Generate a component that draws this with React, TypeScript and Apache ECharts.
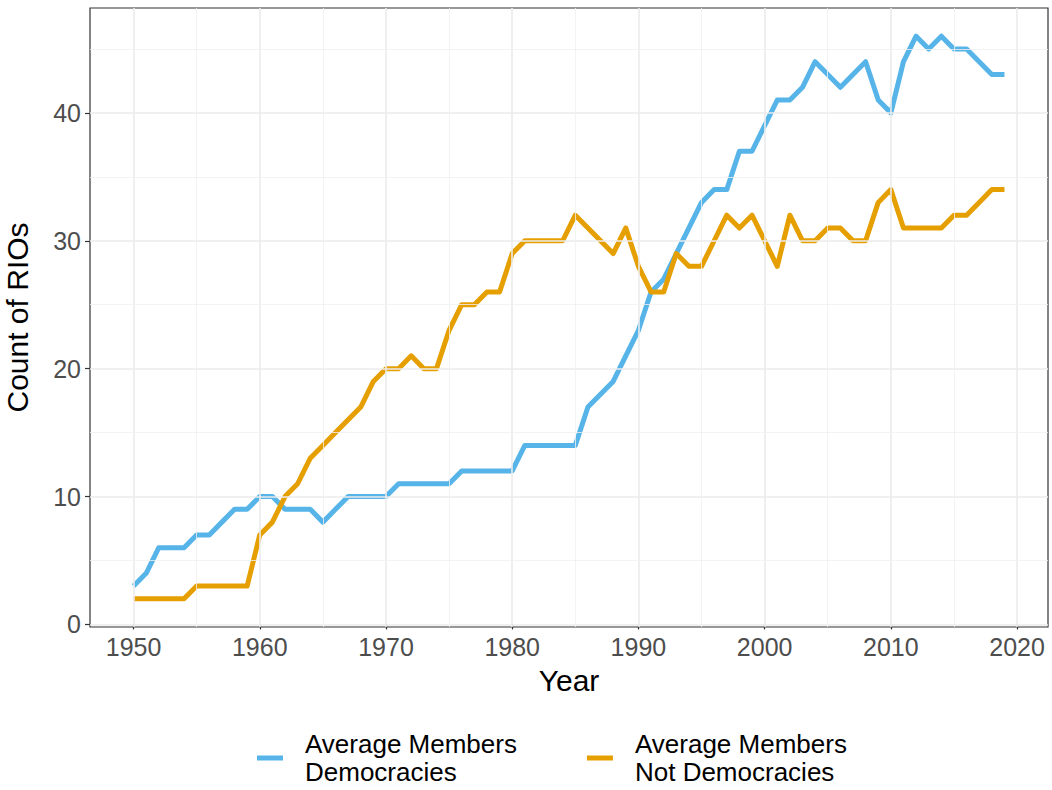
import React, { useEffect, useRef } from "react";
import * as echarts from "echarts";

const years = [
  1950, 1951, 1952, 1953, 1954, 1955, 1956, 1957, 1958, 1959,
  1960, 1961, 1962, 1963, 1964, 1965, 1966, 1967, 1968, 1969,
  1970, 1971, 1972, 1973, 1974, 1975, 1976, 1977, 1978, 1979,
  1980, 1981, 1982, 1983, 1984, 1985, 1986, 1987, 1988, 1989,
  1990, 1991, 1992, 1993, 1994, 1995, 1996, 1997, 1998, 1999,
  2000, 2001, 2002, 2003, 2004, 2005, 2006, 2007, 2008, 2009,
  2010, 2011, 2012, 2013, 2014, 2015, 2016, 2017, 2018, 2019,
];

const democracies = [
  3, 4, 6, 6, 6, 7, 7, 8, 9, 9,
  10, 10, 9, 9, 9, 8, 9, 10, 10, 10,
  10, 11, 11, 11, 11, 11, 12, 12, 12, 12,
  12, 14, 14, 14, 14, 14, 17, 18, 19, 21,
  23, 26, 27, 29, 31, 33, 34, 34, 37, 37,
  39, 41, 41, 42, 44, 43, 42, 43, 44, 41,
  40, 44, 46, 45, 46, 45, 45, 44, 43, 43,
];

const notDemocracies = [
  2, 2, 2, 2, 2, 3, 3, 3, 3, 3,
  7, 8, 10, 11, 13, 14, 15, 16, 17, 19,
  20, 20, 21, 20, 20, 23, 25, 25, 26, 26,
  29, 30, 30, 30, 30, 32, 31, 30, 29, 31,
  28, 26, 26, 29, 28, 28, 30, 32, 31, 32,
  30, 28, 32, 30, 30, 31, 31, 30, 30, 33,
  34, 31, 31, 31, 31, 32, 32, 33, 34, 34,
];

const xTicks = [1950, 1960, 1970, 1980, 1990, 2000, 2010, 2020];
const xMinor = [1955, 1965, 1975, 1985, 1995, 2005, 2015];
const yTicks = [0, 10, 20, 30, 40];
const yMinor = [5, 15, 25, 35, 45];

const seriesNames = ["Average Members\nDemocracies", "Average Members\nNot Democracies"];
const colors = ["#56B4E9", "#E69F00"];

const FONT = "'Liberation Sans', Arial, sans-serif";

export default function App() {
  const ref = useRef<HTMLDivElement>(null);

  useEffect(() => {
    if (!ref.current) return;
    const chart = echarts.init(ref.current, null, { renderer: "svg" });

    const majorLine = { color: "#ebebeb", width: 1.6, type: "solid" };
    const minorLine = { color: "#f0f0f0", width: 0.8, type: "solid" };

    const gridMarks = [
      ...xTicks.map((v) => ({ xAxis: v, lineStyle: majorLine })),
      ...yTicks.map((v) => ({ yAxis: v, lineStyle: majorLine })),
      ...xMinor.map((v) => ({ xAxis: v, lineStyle: minorLine })),
      ...yMinor.map((v) => ({ yAxis: v, lineStyle: minorLine })),
    ];

    chart.setOption({
      animation: false,
      backgroundColor: "#ffffff",
      textStyle: { fontFamily: FONT },
      grid: {
        left: 90,
        right: 4,
        top: 8,
        bottom: 163,
        show: true,
        borderColor: "#333333",
        borderWidth: 1.2,
        backgroundColor: "transparent",
        containLabel: false,
        outerBoundsMode: "none",
      },
      legend: {
        data: seriesNames,
        left: 252,
        top: 725,
        icon: "rect",
        itemWidth: 26,
        itemHeight: 5,
        itemGap: 70,
        selectedMode: false,
        textStyle: {
          fontFamily: FONT,
          fontSize: 26,
          lineHeight: 28,
          color: "#000000",
          padding: [0, 0, 0, 17],
        },
      },
      xAxis: {
        type: "value",
        min: 1946.55,
        max: 2022.45,
        name: "Year",
        nameLocation: "middle",
        nameGap: 38,
        nameTextStyle: { fontFamily: FONT, fontSize: 30, color: "#000000" },
        axisLine: { show: false },
        axisTick: {
          show: true,
          length: 5,
          lineStyle: { color: "#333333", width: 1.2 },
          customValues: xTicks,
        },
        axisLabel: {
          fontFamily: FONT,
          fontSize: 25,
          color: "#4d4d4d",
          margin: 7,
          customValues: xTicks,
          formatter: (v: number) => String(v),
        },
        splitLine: { show: false },
      },
      yAxis: {
        type: "value",
        min: -0.2,
        max: 48.2,
        name: "Count of RIOs",
        nameLocation: "middle",
        nameGap: 58,
        nameRotate: 90,
        nameTextStyle: { fontFamily: FONT, fontSize: 30, color: "#000000" },
        axisLine: { show: false },
        axisTick: {
          show: true,
          length: 5,
          lineStyle: { color: "#333333", width: 1.2 },
          customValues: yTicks,
        },
        axisLabel: {
          fontFamily: FONT,
          fontSize: 25,
          color: "#4d4d4d",
          margin: 9,
          customValues: yTicks,
          formatter: (v: number) => String(v),
        },
        splitLine: { show: false },
      },
      series: [
        {
          type: "line",
          name: "gridlines",
          data: [],
          silent: true,
          z: 1,
          markLine: {
            silent: true,
            symbol: ["none", "none"],
            label: { show: false },
            animation: false,
            data: gridMarks,
          },
        },
        {
          type: "line",
          name: seriesNames[0],
          data: years.map((y, i) => [y, democracies[i]]),
          showSymbol: false,
          symbol: "none",
          z: 3,
          lineStyle: { color: colors[0], width: 5, join: "round" },
          itemStyle: { color: colors[0] },
        },
        {
          type: "line",
          name: seriesNames[1],
          data: years.map((y, i) => [y, notDemocracies[i]]),
          showSymbol: false,
          symbol: "none",
          z: 4,
          lineStyle: { color: colors[1], width: 5, join: "round" },
          itemStyle: { color: colors[1] },
        },
      ],
    });

    return () => {
      chart.dispose();
    };
  }, []);

  return (
    <div
      ref={ref}
      style={{ position: "fixed", left: 0, top: 0, width: 1052, height: 790, background: "#ffffff" }}
    />
  );
}
